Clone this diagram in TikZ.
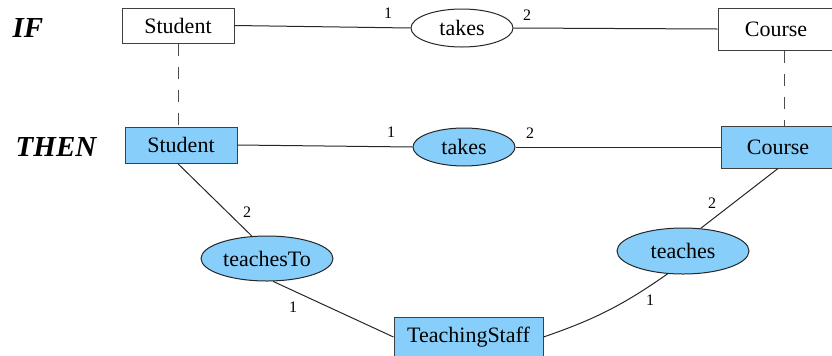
\documentclass[tikz,border=0pt]{standalone}
\usepackage{fontspec}
\setmainfont{Liberation Serif}
\newfontfamily\tms{Liberation Serif}
\usetikzlibrary{shapes.geometric}
\definecolor{lsb}{HTML}{87CEFA}
\begin{document}
\begin{tikzpicture}[x=0.5pt,y=-0.5pt,
  ent/.style={draw=black!75, line width=0.5pt, rectangle, inner sep=0pt, font=\tms\fontsize{11}{13}\selectfont},
  rel/.style={draw=black!85, line width=0.5pt, ellipse, inner sep=0pt, font=\tms\fontsize{11}{13}\selectfont},
  hl/.style={fill=lsb},
  conn/.style={line width=0.5pt, draw=black!85},
  dashline/.style={line width=0.5pt, draw=black!70, dash pattern=on 6pt off 5.5pt},
  card/.style={font=\tms\fontsize{8}{9}\selectfont, inner sep=0pt},
  kw/.style={font=\tms\fontsize{14.5}{16}\selectfont\bfseries\itshape, inner sep=0pt}
]
\useasboundingbox (0,0) rectangle (832,355);
\node[kw] (ifl) at (28,28) {IF};
\node[kw] (thenl) at (56,147) {THEN};
\node[ent, minimum width=56pt, minimum height=17.5pt] (sIF) at (178,25.5) {Student};
\node[rel, minimum width=51pt, minimum height=19pt] (tIF) at (462,28) {takes};
\node[ent, minimum width=58pt, minimum height=21pt] (cIF) at (776,29) {Course};
\node[ent, hl, minimum width=56pt, minimum height=18pt] (sTH) at (181,145) {Student};
\node[rel, hl, minimum width=51pt, minimum height=19pt] (tTH) at (464,147) {takes};
\node[ent, hl, minimum width=57pt, minimum height=21pt] (cTH) at (778,147) {Course};
\node[rel, hl, minimum width=66pt, minimum height=22.5pt] (tto) at (267,258.5) {teachesTo};
\node[rel, hl, minimum width=66pt, minimum height=23pt] (tch) at (683,251) {teaches};
\node[ent, hl, minimum width=74.5pt, minimum height=20pt] (ts) at (468.5,337) {TeachingStaff};

\draw[conn] (sIF.east) -- (tIF.west);
\draw[conn] (tIF.east) -- (cIF.west);
\draw[conn] (sTH.east) -- (tTH.west);
\draw[conn] (tTH.east) -- (cTH.west);
\draw[dashline] (sIF.south) -- (sIF.south |- sTH.north);
\coordinate (cd) at (784,0);
\draw[dashline] (cIF.south -| cd) -- (cTH.north -| cd);
\draw[conn] (sTH.-100) -- (tto.124);
\draw[conn] (tto.-75) -- (ts.west);
\draw[conn] (ts.east) to[bend right=8] (tch.-124);
\draw[conn] (tch.52) -- (cTH.south);

\node[card] (a1) at (388,13) {1};
\node[card] (a2) at (527,15) {2};
\node[card] (b1) at (391,132) {1};
\node[card] (b2) at (530,133) {2};
\node[card] (c2) at (247,212) {2};
\node[card] (c1) at (293,307) {1};
\node[card] (d1) at (650,300) {1};
\node[card] (d2) at (712,203) {2};
\end{tikzpicture}
\end{document}
